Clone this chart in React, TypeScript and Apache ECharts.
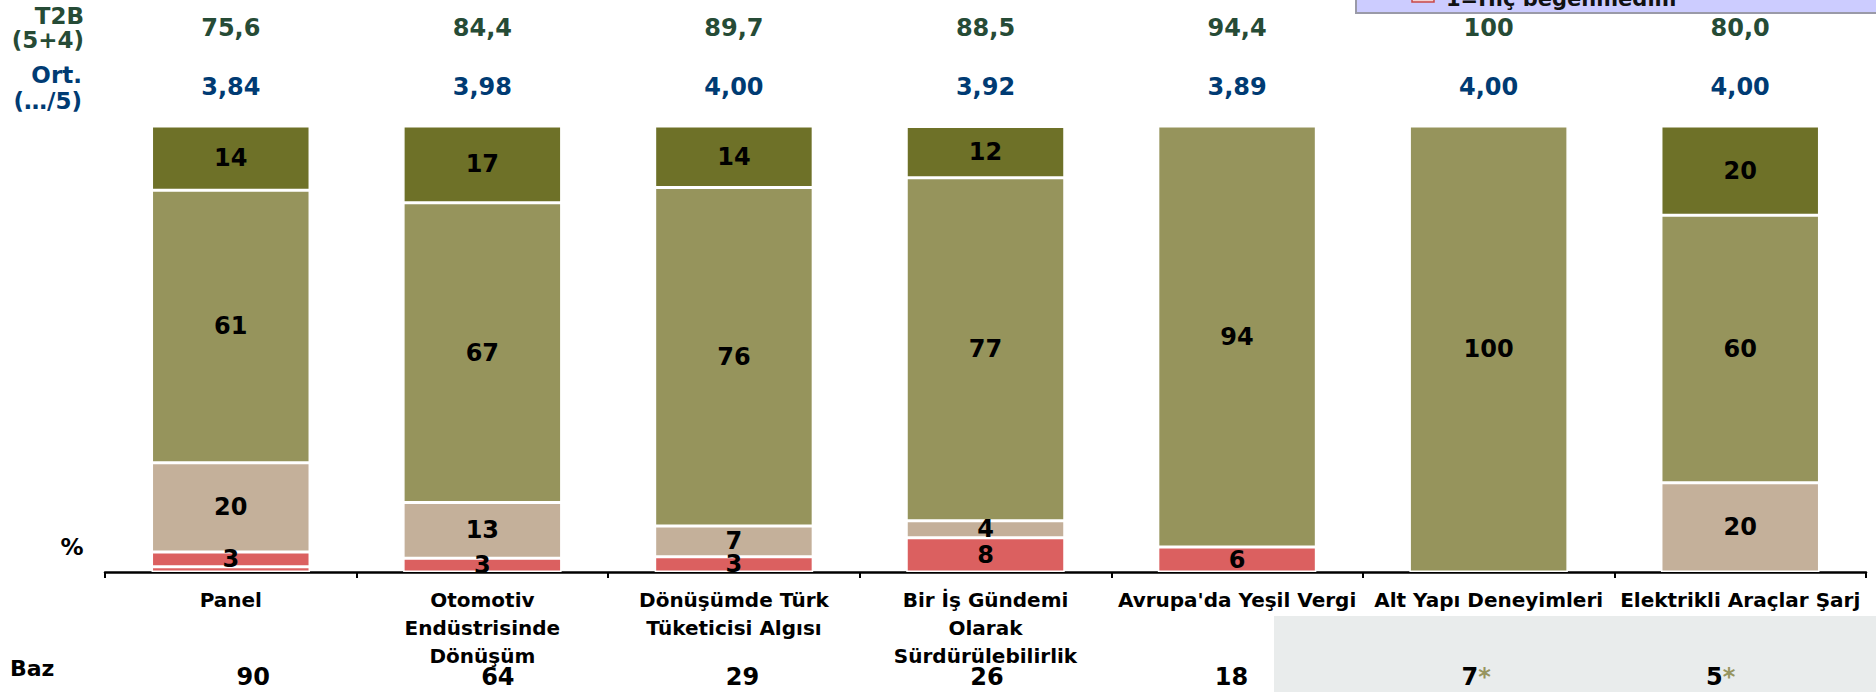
import React, { useEffect, useRef } from "react";
import * as echarts from "echarts";

const categories = [
  "Panel",
  "Otomotiv\nEndüstrisinde\nDönüşüm",
  "Dönüşümde Türk\nTüketicisi Algısı",
  "Bir İş Gündemi\nOlarak\nSürdürülebilirlik",
  "Avrupa'da Yeşil Vergi",
  "Alt Yapı Deneyimleri",
  "Elektrikli Araçlar Şarj",
];
// stacked shares (%), bottom (1) to top (5)
const s1 = [1.2, 0, 0, 0, 0, 0, 0];
const s2 = [3.3, 3.1, 3.4, 7.7, 5.6, 0, 0];
const s3 = [20.0, 12.5, 6.9, 3.8, 0, 0, 20];
const s4 = [61.1, 67.2, 75.9, 76.9, 94.4, 100, 60];
const s5 = [14.4, 17.2, 13.8, 11.5, 0, 0, 20];
const t2bLabels = ["75,6", "84,4", "89,7", "88,5", "94,4", "100", "80,0"];
const ortLabels = ["3,84", "3,98", "4,00", "3,92", "3,89", "4,00", "4,00"];
const bazValues = [90, 64, 29, 26, 18, 7, 5];
const bazStar = [false, false, false, false, false, true, true];

const FONT = "'DejaVu Sans', Verdana, sans-serif";

export default function App() {
  const ref = useRef<HTMLDivElement>(null);
  useEffect(() => {
    if (!ref.current) return;
    const chart = echarts.init(ref.current, null, { renderer: "svg" });
    const labelFmt = (p: any) => (p.value >= 2 ? String(Math.round(p.value)) : "");
    const mk = (name: string, data: number[], color: string, showLabel: boolean) => ({
      name,
      type: "bar",
      stack: "s",
      data: data.map((v) => (v === 0 ? "-" : v)),
      barWidth: "63%",
      xAxisIndex: 0,
      yAxisIndex: 0,
      itemStyle: { color, borderColor: "#ffffff", borderWidth: 1.5 },
      label: {
        show: showLabel,
        position: "inside",
        formatter: labelFmt,
        color: "#000",
        fontFamily: FONT,
        fontWeight: "bold",
        fontSize: 24,
      },
    });
    const option: any = {
      animation: false,
      backgroundColor: "#ffffff",
      grid: [
        { left: 105, right: 10, top: 126, bottom: 120 },
        { left: 131, right: 33, top: 126, bottom: 120 },
      ],
      xAxis: [
        {
          type: "category",
          gridIndex: 0,
          data: categories,
          position: "bottom",
          axisLine: { lineStyle: { color: "#000", width: 2.5 } },
          axisTick: { show: true, length: 6, lineStyle: { color: "#000", width: 2 } },
          axisLabel: {
            interval: 0,
            margin: 14,
            color: "#000",
            fontFamily: FONT,
            fontWeight: "bold",
            fontSize: 20,
            lineHeight: 28,
          },
        },
        {
          type: "category",
          gridIndex: 0,
          data: t2bLabels,
          position: "top",
          axisLine: { show: false },
          axisTick: { show: false },
          axisLabel: {
            interval: 0,
            margin: 86,
            color: "#264B36",
            fontFamily: FONT,
            fontWeight: "bold",
            fontSize: 24,
          },
        },
        {
          type: "category",
          gridIndex: 0,
          data: ortLabels,
          position: "top",
          axisLine: { show: false },
          axisTick: { show: false },
          axisLabel: {
            interval: 0,
            margin: 27,
            color: "#003B73",
            fontFamily: FONT,
            fontWeight: "bold",
            fontSize: 24,
          },
        },
        {
          type: "category",
          gridIndex: 1,
          data: bazValues.map(String),
          position: "bottom",
          axisLine: { show: false },
          axisTick: { show: false },
          axisLabel: {
            interval: 0,
            margin: 93,
            formatter: (v: string, i: number) => (bazStar[i] ? `{n|${v}}{s|*}` : `{n|${v}}`),
            rich: {
              n: { color: "#000", fontFamily: FONT, fontWeight: "bold", fontSize: 24, lineHeight: 24 },
              s: { color: "#979560", fontFamily: FONT, fontWeight: "bold", fontSize: 24, lineHeight: 24 },
            },
          },
        },
      ],
      yAxis: [
        { type: "value", gridIndex: 0, min: 0, max: 100, show: false },
        { type: "value", gridIndex: 1, min: 0, max: 100, show: false },
      ],
      series: [
        mk("1=Hiç beğenmedim", s1, "#DB6060", false),
        mk("2", s2, "#DB6060", true),
        mk("3", s3, "#C4B09A", true),
        mk("4", s4, "#96945C", true),
        mk("5", s5, "#6E7128", true),
      ],
      graphic: [
        {
          type: "rect",
          z: -10,
          shape: { x: 1274, y: 616, width: 602, height: 76 },
          style: { fill: "#E9ECEC" },
        },
        {
          type: "rect",
          shape: { x: 1356, y: -40, width: 540, height: 53 },
          style: { fill: "#CCCCFF", stroke: "#9A9AA8", lineWidth: 2 },
        },
        {
          type: "rect",
          shape: { x: 1412, y: -6, width: 22, height: 8 },
          style: { fill: "#F3D0D0", stroke: "#C84848", lineWidth: 1.5 },
        },
        {
          type: "text",
          x: 1446,
          y: 9,
          style: {
            text: "1=Hiç beğenmedim",
            fill: "#111",
            font: `bold 21px ${FONT}`,
            textAlign: "left",
            textVerticalAlign: "bottom",
          },
        },
        {
          type: "text",
          x: 84,
          y: 16,
          style: { text: "T2B", fill: "#264B36", font: `bold 23px ${FONT}`, textAlign: "right", textVerticalAlign: "middle" },
        },
        {
          type: "text",
          x: 84,
          y: 40,
          style: { text: "(5+4)", fill: "#264B36", font: `bold 23px ${FONT}`, textAlign: "right", textVerticalAlign: "middle" },
        },
        {
          type: "text",
          x: 82,
          y: 75,
          style: { text: "Ort.", fill: "#003B73", font: `bold 23px ${FONT}`, textAlign: "right", textVerticalAlign: "middle" },
        },
        {
          type: "text",
          x: 82,
          y: 101,
          style: { text: "(…/5)", fill: "#003B73", font: `bold 23px ${FONT}`, textAlign: "right", textVerticalAlign: "middle" },
        },
        {
          type: "text",
          x: 72,
          y: 547,
          style: { text: "%", fill: "#000", font: `bold 23px ${FONT}`, textAlign: "center", textVerticalAlign: "middle" },
        },
        {
          type: "text",
          x: 10,
          y: 668,
          style: { text: "Baz", fill: "#000", font: `bold 22px ${FONT}`, textAlign: "left", textVerticalAlign: "middle" },
        },
      ],
    };
    chart.setOption(option);
    return () => chart.dispose();
  }, []);
  return (
    <div
      ref={ref}
      style={{ position: "absolute", left: 0, top: 0, width: 1876, height: 692 }}
    />
  );
}
